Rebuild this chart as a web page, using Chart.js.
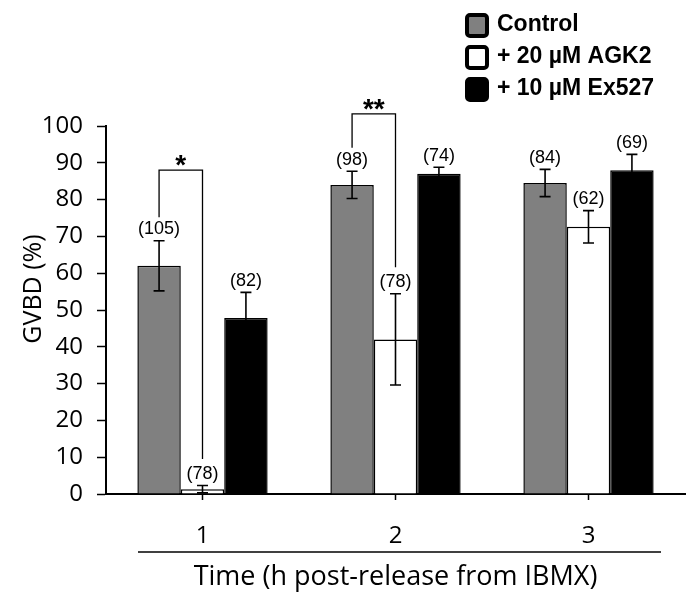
<!DOCTYPE html>
<html>
<head>
<meta charset="utf-8">
<script src="https://cdn.jsdelivr.net/npm/chart.js@4"></script>
<style>
  body { margin: 0; background: #fff; }
  #wrap { width: 700px; height: 607px; position: relative; }
</style>
</head>
<body>
<div id="wrap"><canvas id="gvbd"></canvas></div>
<script>
// data
const categories = ['1', '2', '3'];
const seriesNames = ['Control', '+ 20 µM AGK2', '+ 10 µM Ex527'];
const seriesColors = ['#808080', '#ffffff', '#000000'];

const controlMean = [62, 84, 84.5];
const controlErr = [6.8, 3.7, 3.7];
const agk2Mean = [1.3, 42, 72.6];
const agk2Err = [1, 12.4, 4.4];
const ex527Mean = [47.8, 87, 88];
const ex527Err = [7, 1.8, 4.3];

const controlN = ['(105)', '(98)', '(84)'];
const agk2N = ['(78)', '(78)', '(62)'];
const ex527N = ['(82)', '(74)', '(69)'];

// significance: bracket between Control and AGK2 in each group
const sigLevel = [88, 103.3, null];
const sigMark = ['*', '**', ''];

const yTicks = [0, 10, 20, 30, 40, 50, 60, 70, 80, 90, 100];
const yTitle = 'GVBD (%)';
const xTitle = 'Time (h post-release from IBMX)';

const means = [controlMean, agk2Mean, ex527Mean];
const errs = [controlErr, agk2Err, ex527Err];
const nLabels = [controlN, agk2N, ex527N];

const tickFont = { family: 'Open Sans', size: 24 };

// error bars, n labels, brackets, legend
const extras = {
    id: 'extras',
    afterDatasetsDraw(chart) {
        const ctx = chart.ctx;
        const y = chart.scales.y;
        const labelY = [];
        ctx.save();
        ctx.strokeStyle = '#000';
        ctx.fillStyle = '#000';
        for (let d = 0; d < means.length; d++) {
            const meta = chart.getDatasetMeta(d);
            labelY[d] = [];
            for (let i = 0; i < categories.length; i++) {
                const bar = meta.data[i];
                const top = y.getPixelForValue(means[d][i] + errs[d][i]);
                const bot = y.getPixelForValue(means[d][i] - errs[d][i]);
                ctx.lineWidth = 1.6;
                ctx.beginPath();
                ctx.moveTo(bar.x, top); ctx.lineTo(bar.x, bot);
                ctx.moveTo(bar.x - 5.5, top); ctx.lineTo(bar.x + 5.5, top);
                ctx.moveTo(bar.x - 5.5, bot); ctx.lineTo(bar.x + 5.5, bot);
                ctx.stroke();
                const ly = top - 11.5;
                labelY[d][i] = ly;
                ctx.font = '18px "Liberation Sans", Arial';
                ctx.textAlign = 'center';
                ctx.textBaseline = 'middle';
                ctx.fillText(nLabels[d][i], bar.x, ly);
            }
        }
        // brackets
        const m0 = chart.getDatasetMeta(0), m1 = chart.getDatasetMeta(1);
        for (let i = 0; i < categories.length; i++) {
            if (sigLevel[i] === null) continue;
            const hy = y.getPixelForValue(sigLevel[i]);
            const x0 = m0.data[i].x, x1 = m1.data[i].x;
            ctx.lineWidth = 1.3;
            ctx.beginPath();
            ctx.moveTo(x0, labelY[0][i] - 12);
            ctx.lineTo(x0, hy);
            ctx.lineTo(x1, hy);
            ctx.lineTo(x1, labelY[1][i] - 15);
            ctx.stroke();
            ctx.font = 'bold 28px "Liberation Sans", Arial';
            ctx.textAlign = 'center';
            ctx.textBaseline = 'alphabetic';
            ctx.fillText(sigMark[i], (x0 + x1) / 2, hy + 4);
        }
        ctx.restore();
    },
    afterDraw(chart) {
        const ctx = chart.ctx;
        const area = chart.chartArea;
        ctx.save();
        ctx.fillStyle = '#000';
        // y axis title
        ctx.font = '25px "Open Sans"';
        ctx.textAlign = 'center';
        ctx.textBaseline = 'middle';
        ctx.translate(34, (area.top + area.bottom) / 2 - 21);
        ctx.rotate(-Math.PI / 2);
        ctx.fillText(yTitle, 0, 0);
        ctx.setTransform(1, 0, 0, 1, 0, 0);
        ctx.scale(chart.currentDevicePixelRatio, chart.currentDevicePixelRatio);
        // line under the category labels
        ctx.strokeStyle = '#000';
        ctx.lineWidth = 1.5;
        ctx.beginPath();
        ctx.moveTo(area.left + 32, area.bottom + 58);
        ctx.lineTo(area.right - 24, area.bottom + 58);
        ctx.stroke();
        // legend
        const lx = chart.width - 235;
        ctx.font = 'bold 23px "Liberation Sans", Arial';
        ctx.textAlign = 'left';
        ctx.textBaseline = 'middle';
        for (let d = 0; d < seriesNames.length; d++) {
            const by = 13 + d * 32;
            ctx.fillStyle = seriesColors[d];
            ctx.strokeStyle = '#000';
            ctx.lineWidth = 4;
            ctx.beginPath();
            ctx.roundRect(lx + 2, by + 2, 20, 21, 3);
            ctx.fill();
            ctx.stroke();
            ctx.fillStyle = '#000';
            ctx.fillText(seriesNames[d], lx + 32, by + 12);
        }
        ctx.restore();
    }
};

new Chart(document.getElementById('gvbd'), {
    type: 'bar',
    data: {
        labels: categories,
        datasets: seriesNames.map((name, d) => ({
            label: name,
            data: means[d],
            backgroundColor: seriesColors[d],
            borderColor: '#000',
            borderWidth: 1.5,
            barPercentage: 1,
            categoryPercentage: 0.675
        }))
    },
    options: {
        responsive: true,
        maintainAspectRatio: false,
        animation: false,
        layout: { padding: { left: 0, right: 15, top: 126, bottom: 0 } },
        plugins: {
            legend: { display: false },
            tooltip: { enabled: false }
        },
        scales: {
            x: {
                afterFit: s => { s.height = 113; },
                grid: { offset: false, drawOnChartArea: false, tickLength: 6, color: '#000', tickWidth: 1.5 },
                border: { color: '#000', width: 2 },
                ticks: { color: '#000', font: tickFont, padding: 22 },
                title: {
                    display: true,
                    text: xTitle,
                    color: '#000',
                    font: { family: 'Open Sans', size: 27 },
                    padding: { top: 0, bottom: 13 }
                }
            },
            y: {
                min: 0,
                max: 100,
                afterFit: s => { s.width = 106; },
                afterBuildTicks: s => { s.ticks = yTicks.map(v => ({ value: v })); },
                grid: { drawOnChartArea: false, tickLength: 9, color: '#000', tickWidth: 1.5 },
                border: { color: '#000', width: 2 },
                ticks: { color: '#000', font: tickFont, padding: 14 }
            }
        }
    },
    plugins: [extras]
});
</script>
</body>
</html>
